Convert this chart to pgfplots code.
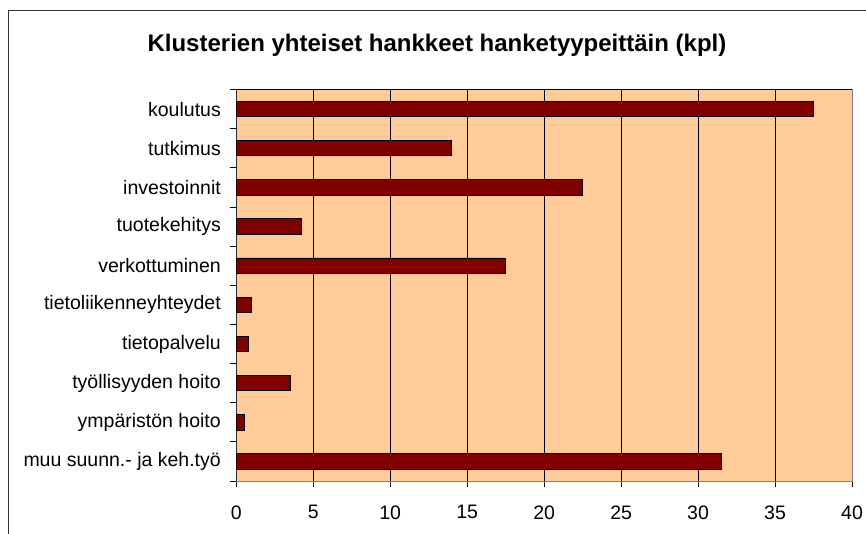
\documentclass[border=0pt]{standalone}
\usepackage{fontspec}
\setmainfont{Liberation Sans}
\usepackage{pgfplots}
\pgfplotsset{compat=1.18}
\definecolor{peach}{HTML}{FFCC99}
\definecolor{barred}{HTML}{800000}
\begin{document}
\begin{tikzpicture}
\useasboundingbox (0,0) rectangle (866bp,534bp);
\draw[line width=1.5bp, black!80] (8.3bp,-5bp) -- (8.3bp,523.3bp) -- (875bp,523.3bp);
\node[font=\fontsize{24bp}{28bp}\selectfont\bfseries] at (437bp,489bp) {Klusterien yhteiset hankkeet hanketyypeittäin (kpl)};
\begin{axis}[
  at={(236.3bp,53bp)}, anchor=south west,
  scale only axis, width=615.7bp, height=391.5bp,
  xmin=0, xmax=40, ymin=-0.5, ymax=9.5, y dir=reverse,
  xtick={0,5,...,40}, xtick pos=lower, ytick pos=left,
  ytick={0,...,9},
  yticklabels={koulutus, tutkimus, investoinnit, tuotekehitys, verkottuminen, tietoliikenneyhteydet, tietopalvelu, työllisyyden hoito, ympäristön hoito, muu suunn.- ja keh.työ},
  minor ytick={-0.5,0.5,...,9.5},
  major y tick style={draw=none},
  tick align=outside, major tick length=6bp, minor tick length=6bp,
  tick style={black, line width=0.8bp},
  xmajorgrids, grid style={black, line width=0.8bp},
  axis line style={draw=gray, line width=1bp},
  axis background/.style={fill=peach},
  /pgf/number format/assume math mode=true,
  tick label style={font=\fontsize{19.5bp}{21bp}\selectfont},
  yticklabel style={xshift=-6bp},
  xticklabel style={yshift=-15bp},
  xbar, bar width=15.4bp,
]
\addplot[fill=barred, draw=black, line width=0.9bp] coordinates {
 (37.5,0) (14,1) (22.5,2) (4.25,3) (17.5,4) (1,5) (0.8,6) (3.55,7) (0.5,8) (31.5,9)
};
\draw[black, line width=1bp] (rel axis cs:0,0) -- (rel axis cs:0,1);
\draw[black, line width=1bp] (rel axis cs:0,1) -- (rel axis cs:1,1);
\end{axis}
\end{tikzpicture}
\end{document}
